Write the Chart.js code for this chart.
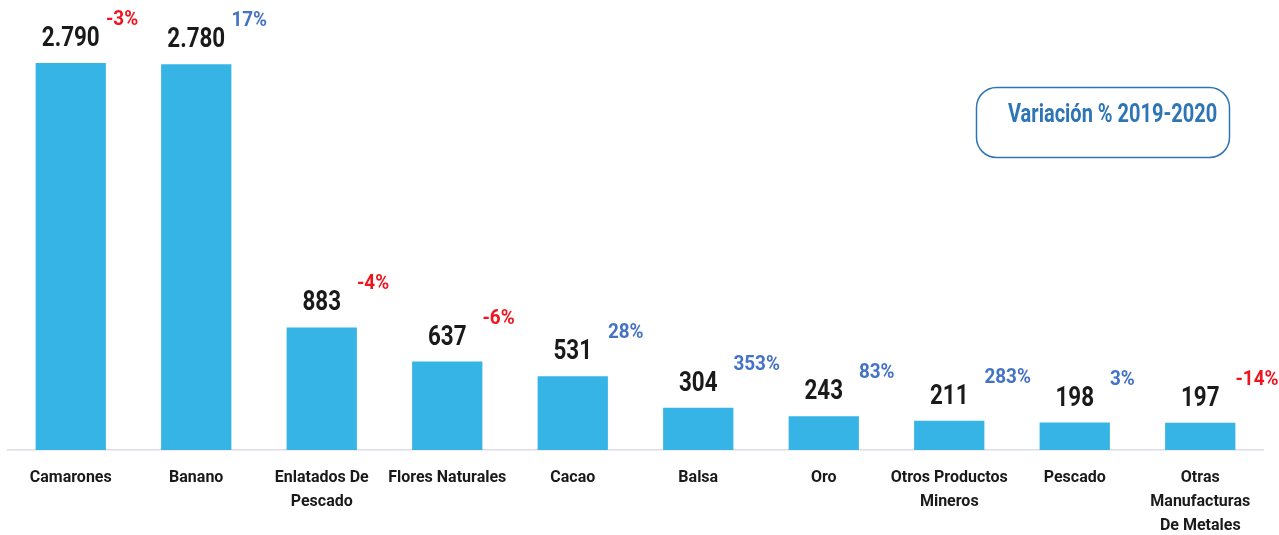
<!DOCTYPE html>
<html>
<head>
<meta charset="utf-8">
<script src="https://cdn.jsdelivr.net/npm/chart.js@4/dist/chart.umd.min.js"></script>
<style>
  html, body { margin: 0; padding: 0; background: #ffffff; }
  #wrap { width: 1279px; height: 535px; position: relative; }
</style>
</head>
<body>
<div id="wrap"><canvas id="c"></canvas></div>
<script>
const categories = [
  ["Camarones"], ["Banano"], ["Enlatados De", "Pescado"], ["Flores Naturales"], ["Cacao"],
  ["Balsa"], ["Oro"], ["Otros Productos", "Mineros"], ["Pescado"], ["Otras", "Manufacturas", "De Metales"]
];
const values = [2790, 2780, 883, 637, 531, 304, 243, 211, 198, 197];
const variation = [-3, 17, -4, -6, 28, 353, 83, 283, 3, -14];
const boxTitle = "Variación % 2019-2020";

const FONT = "Roboto, 'Liberation Sans', sans-serif";

function fmt(v) {
  return String(v).replace(/\B(?=(\d{3})+(?!\d))/g, ".");
}

// draw text squeezed horizontally to mimic a condensed face
function narrowText(ctx, text, x, y, sx, align) {
  ctx.save();
  ctx.translate(x, y);
  ctx.scale(sx, 1);
  ctx.textAlign = align;
  ctx.fillText(text, 0, 0);
  ctx.restore();
}

const labelPlugin = {
  id: 'labels',
  afterDatasetsDraw(chart) {
    const ctx = chart.ctx;
    const meta = chart.getDatasetMeta(0);
    ctx.save();
    ctx.textBaseline = "alphabetic";
    meta.data.forEach((bar, i) => {
      const top = bar.y;
      const half = bar.width / 2;
      ctx.font = "bold 27px " + FONT;
      ctx.fillStyle = "#1a1a1a";
      narrowText(ctx, fmt(values[i]), bar.x, top - 17, 0.83, "center");
      const v = variation[i];
      ctx.font = "bold 21px " + FONT;
      ctx.fillStyle = v < 0 ? "#f0141e" : "#4472c4";
      narrowText(ctx, v + "%", bar.x + half, top - 38, 0.9, "left");
    });
    const bx = 976.5, by = 87.5, bw = 253, bh = 70, r = 20;
    ctx.beginPath();
    ctx.roundRect(bx, by, bw, bh, r);
    ctx.lineWidth = 1.5;
    ctx.strokeStyle = "#2e75b6";
    ctx.stroke();
    ctx.font = "bold 25px " + FONT;
    ctx.fillStyle = "#2e75b6";
    narrowText(ctx, boxTitle, 1008, 122, 0.8, "left");
    ctx.restore();
  }
};

new Chart(document.getElementById('c'), {
  type: 'bar',
  data: {
    labels: categories,
    datasets: [{
      data: values,
      backgroundColor: "#37b4e6",
      borderWidth: 0,
      barPercentage: 0.56,
      categoryPercentage: 1.0
    }]
  },
  options: {
    responsive: true,
    maintainAspectRatio: false,
    devicePixelRatio: 1,
    animation: false,
    layout: { padding: { left: 8, right: 16, top: 6, bottom: 0 } },
    plugins: { legend: { display: false }, tooltip: { enabled: false } },
    scales: {
      x: {
        grid: { display: false, drawTicks: false },
        border: { display: true, color: "#dcdce6", width: 1.5 },
        ticks: {
          color: "#1a1a1a",
          font: { family: FONT, size: 16, weight: 'bold', lineHeight: 1.5 },
          padding: 16,
          maxRotation: 0,
          autoSkip: false
        },
        afterFit(scale) { scale.height = 85; }
      },
      y: {
        display: false,
        min: 0,
        max: 3200
      }
    }
  },
  plugins: [labelPlugin]
});
</script>
</body>
</html>
